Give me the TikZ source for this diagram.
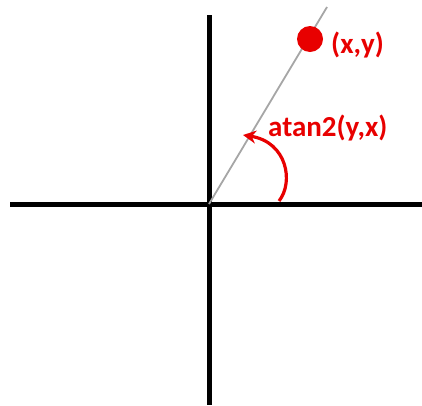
\documentclass[tikz,border=0pt]{standalone}
\usepackage{fontspec}
\setmainfont{Carlito}
\usetikzlibrary{arrows.meta}

\definecolor{ptred}{RGB}{232,0,0}

\begin{document}
\begin{tikzpicture}[
        x=1pt, y=-1pt,
        every node/.style={font=\bfseries\fontsize{29}{32}\selectfont},
        axis/.style={draw=black, line width=5pt},
        ray/.style={draw=black!35, line width=1.8pt},
        point/.style={circle, fill=ptred, minimum size=26pt, inner sep=0pt},
        label/.style={text=ptred, anchor=west, inner sep=0pt},
        angle/.style={draw=ptred, line width=3.2pt, -{Stealth[length=13pt,width=13pt]}}
    ]

    \useasboundingbox (0,0) rectangle (422,405);

    % Axes
    \coordinate (O) at (209,204);
    \coordinate (xl) at (10,204);
    \coordinate (xr) at (422,204);
    \coordinate (yt) at (209,15);
    \coordinate (yb) at (209,405);
    \draw[axis] (xl) -- (xr);
    \draw[axis] (yt) -- (yb);

    % Ray through the point
    \coordinate (rayend) at (327,7);
    \draw[ray] (O) -- (rayend);

    % Point and labels
    \node[point] (pt) at (310,39) {};
    \node[label] (ptlabel) at (331,45) {(x,y)};
    \node[label] (anglabel) at (268,128) {atan2(y,x)};

    % Angle arrow
    \coordinate (angstart) at (279,201);
    \coordinate (angend) at (243,135);
    \draw[angle] (angstart) .. controls (294,182) and (287,142) .. (angend);

\end{tikzpicture}
\end{document}
